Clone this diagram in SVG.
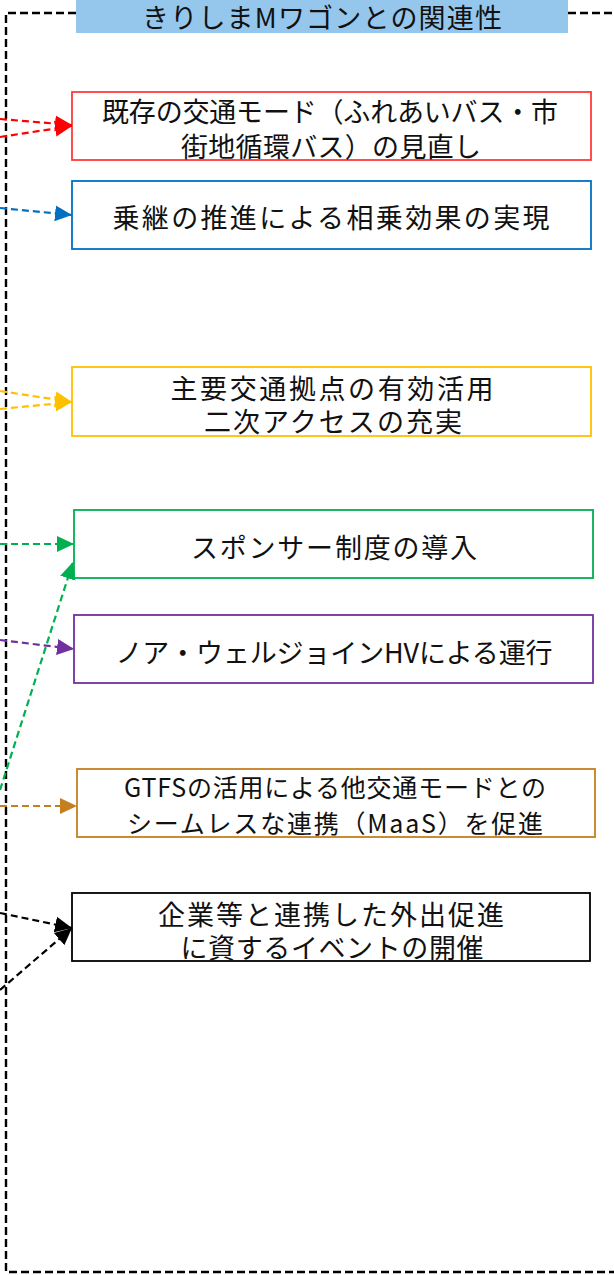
<svg xmlns="http://www.w3.org/2000/svg" width="614" height="1275" viewBox="0 0 614 1275">
<style>
.t{font-family:"Noto Sans CJK JP","Noto Sans",sans-serif;font-size:27px;fill:#111;text-anchor:middle}
.s{font-size:25px}
.box{fill:#fff;stroke-width:1.8}
.c{fill:none;stroke-width:2.2;stroke-dasharray:7 4}
.frame{fill:none;stroke:#000;stroke-width:2.4;stroke-dasharray:8 4}
</style>
<defs>
<marker id="mR" markerUnits="userSpaceOnUse" markerWidth="18" markerHeight="18" refX="17" refY="9" orient="auto"><path d="M0,1 L17,9 L0,17 Z" fill="#FF0000"/></marker>
<marker id="mB" markerUnits="userSpaceOnUse" markerWidth="18" markerHeight="18" refX="17" refY="9" orient="auto"><path d="M0,1 L17,9 L0,17 Z" fill="#0070C0"/></marker>
<marker id="mY" markerUnits="userSpaceOnUse" markerWidth="18" markerHeight="18" refX="17" refY="9" orient="auto"><path d="M0,1 L17,9 L0,17 Z" fill="#FFC000"/></marker>
<marker id="mG" markerUnits="userSpaceOnUse" markerWidth="18" markerHeight="18" refX="17" refY="9" orient="auto"><path d="M0,1 L17,9 L0,17 Z" fill="#00B050"/></marker>
<marker id="mP" markerUnits="userSpaceOnUse" markerWidth="18" markerHeight="18" refX="17" refY="9" orient="auto"><path d="M0,1 L17,9 L0,17 Z" fill="#7030A0"/></marker>
<marker id="mO" markerUnits="userSpaceOnUse" markerWidth="18" markerHeight="18" refX="17" refY="9" orient="auto"><path d="M0,1 L17,9 L0,17 Z" fill="#C47F1E"/></marker>
<marker id="mK" markerUnits="userSpaceOnUse" markerWidth="18" markerHeight="18" refX="17" refY="9" orient="auto"><path d="M0,1 L17,9 L0,17 Z" fill="#000"/></marker>
</defs>
<rect width="614" height="1275" fill="#fff"/>
<path class="frame" d="M76,13 H6 V1272 H614 M568,13 H614"/>
<g id="title">
<rect x="76" y="0" width="492" height="33" fill="#95C6EC"/>
<text class="t" x="322" y="28" textLength="360">きりしまMワゴンとの関連性</text>
</g>
<g id="n1">
<rect class="box" x="72" y="92" width="519" height="68" stroke="#FF3B3B"/>
<text class="t" x="330" y="122" textLength="456">既存の交通モード（ふれあいバス・市</text>
<text class="t" x="331" y="157" textLength="300">街地循環バス）の見直し</text>
</g>
<g id="n2">
<rect class="box" x="72" y="181" width="519" height="68" stroke="#0070C0"/>
<text class="t" x="331" y="228" textLength="437">乗継の推進による相乗効果の実現</text>
</g>
<g id="n3">
<rect class="box" x="72" y="367" width="519" height="69" stroke="#FFC000" stroke-width="2.6"/>
<text class="t" x="332" y="399" textLength="323">主要交通拠点の有効活用</text>
<text class="t" x="333" y="432" textLength="258">二次アクセスの充実</text>
</g>
<g id="n4">
<rect class="box" x="74" y="510" width="519" height="68" stroke="#00B050"/>
<text class="t" x="334" y="558" textLength="286">スポンサー制度の導入</text>
</g>
<g id="n5">
<rect class="box" x="74" y="615" width="519" height="68" stroke="#7030A0"/>
<text class="t" x="334" y="663" textLength="437">ノア・ウェルジョインHVによる運行</text>
</g>
<g id="n6">
<rect class="box" x="77" y="769" width="518" height="68" stroke="#C47F1E"/>
<text class="t s" x="335" y="797" textLength="422">GTFSの活用による他交通モードとの</text>
<text class="t s" x="335" y="833" textLength="416">シームレスな連携（MaaS）を促進</text>
</g>
<g id="n7">
<rect class="box" x="72" y="893" width="518" height="68" stroke="#000"/>
<text class="t" x="331" y="925" textLength="346">企業等と連携した外出促進</text>
<text class="t" x="332" y="958" textLength="303">に資するイベントの開催</text>
</g>
<g id="connectors">
<line class="c" x1="0" y1="119" x2="72" y2="125" stroke="#FF0000" marker-end="url(#mR)"/>
<line class="c" x1="0" y1="137" x2="72" y2="126" stroke="#FF0000" marker-end="url(#mR)"/>
<line class="c" x1="0" y1="208" x2="72" y2="215" stroke="#0070C0" marker-end="url(#mB)"/>
<line class="c" x1="0" y1="391" x2="72" y2="402" stroke="#FFC000" marker-end="url(#mY)"/>
<line class="c" x1="0" y1="409" x2="72" y2="402" stroke="#FFC000" marker-end="url(#mY)"/>
<line class="c" x1="0" y1="544" x2="74" y2="544" stroke="#00B050" marker-end="url(#mG)"/>
<line class="c" x1="0" y1="790" x2="73" y2="562" stroke="#00B050" marker-end="url(#mG)"/>
<line class="c" x1="0" y1="640" x2="74" y2="649" stroke="#7030A0" marker-end="url(#mP)"/>
<line class="c" x1="0" y1="806" x2="77" y2="806" stroke="#C47F1E" marker-end="url(#mO)"/>
<line class="c" x1="0" y1="913" x2="72" y2="928" stroke="#000" marker-end="url(#mK)"/>
<line class="c" x1="0" y1="990" x2="72" y2="928" stroke="#000" marker-end="url(#mK)"/>
</g>
</svg>
